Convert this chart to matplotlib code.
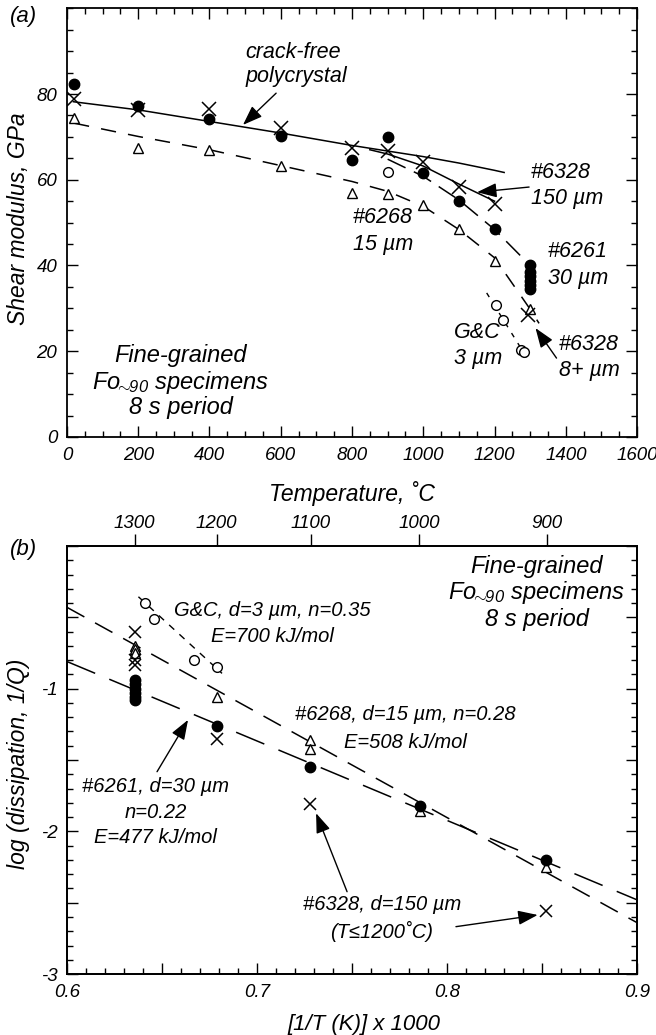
import numpy as np
import matplotlib
matplotlib.use("Agg")
from matplotlib import pyplot as plt
from matplotlib.ticker import MultipleLocator, FixedLocator, FuncFormatter

plt.rcParams['font.family'] = ['Liberation Sans', 'DejaVu Sans']
plt.rcParams['font.style'] = 'italic'
plt.rcParams['mathtext.fontset'] = 'custom'
plt.rcParams['mathtext.rm'] = 'Liberation Sans:italic'
plt.rcParams['mathtext.it'] = 'Liberation Sans:italic'
plt.rcParams['axes.unicode_minus'] = False
plt.rcParams['axes.linewidth'] = 1.3
for a in ('xtick', 'ytick'):
	plt.rcParams[a + '.direction'] = 'in'
	plt.rcParams[a + '.major.width'] = 1.0
	plt.rcParams[a + '.minor.width'] = 1.0
	plt.rcParams[a + '.major.size'] = 8
	plt.rcParams[a + '.minor.size'] = 4
	plt.rcParams[a + '.labelsize'] = 13.5
	plt.rcParams[a + '.major.pad'] = 7

# ---------------- panel (a): shear modulus vs temperature ----------------
T_6261 = [20, 200, 400, 600, 800, 900, 1000, 1100, 1200, 1300, 1300, 1300, 1300, 1300, 1300]
G_6261 = [82.3, 77.1, 74.1, 70.1, 64.7, 69.9, 61.6, 55.0, 48.4, 40.0, 38.5, 37.5, 36.5, 35.5, 34.5]

T_6328 = [20, 200, 400, 600, 800, 900, 1000, 1100, 1200, 1295]
G_6328 = [78.8, 76.3, 76.4, 72.0, 67.4, 66.6, 64.1, 58.4, 54.4, 28.4]

T_6268 = [20, 200, 400, 600, 800, 900, 1000, 1100, 1200, 1300]
G_6268 = [74.3, 67.4, 67.0, 63.3, 56.9, 56.7, 54.2, 48.4, 41.0, 29.8]

T_gc = [900, 1204, 1223, 1275, 1283]
G_gc = [61.9, 30.9, 27.2, 20.2, 19.8]

# fitted curves
T_crackfree = [18, 200, 400, 600, 800, 1000, 1100, 1200, 1227]
G_crackfree = [78.2, 76.3, 73.6, 70.9, 68.0, 65.4, 63.9, 62.2, 61.7]
T_fit6328 = [850, 900, 1000, 1100, 1200]
G_fit6328 = [67.0, 66.0, 63.2, 59.0, 55.0]
T_fit6261 = [900, 1000, 1100, 1200, 1300]
G_fit6261 = [64.8, 60.8, 55.3, 48.4, 40.0]
T_fit6268 = [20, 200, 400, 600, 800, 900, 1000, 1100, 1200, 1300, 1325]
G_fit6268 = [73.2, 70.1, 67.0, 63.3, 59.6, 57.3, 53.8, 48.4, 41.8, 29.8, 26.5]
T_fitgc = [1178, 1298]
G_fitgc = [33.6, 17.5]

# ---------------- panel (b): dissipation vs inverse temperature ----------------
x_6261 = [0.636, 0.636, 0.636, 0.636, 0.636, 0.636, 0.679, 0.728, 0.786, 0.852]
q_6261 = [-0.94, -0.97, -1.00, -1.03, -1.06, -1.08, -1.26, -1.55, -1.82, -2.20]
x_6268 = [0.636, 0.636, 0.636, 0.679, 0.728, 0.728, 0.786, 0.852]
q_6268 = [-0.70, -0.72, -0.75, -1.06, -1.36, -1.42, -1.86, -2.25]
x_6328 = [0.636, 0.636, 0.636, 0.679, 0.728, 0.852]
q_6328 = [-0.60, -0.80, -0.835, -1.355, -1.81, -2.56]
x_gc = [0.641, 0.646, 0.667, 0.679]
q_gc = [-0.40, -0.51, -0.80, -0.85]

x_fit6261 = [0.6, 0.9]
q_fit6261 = [-0.81, -2.48]
x_fit6268 = [0.6, 0.9]
q_fit6268 = [-0.43, -2.64]
x_fitgc = [0.6376, 0.6816]
q_fitgc = [-0.356, -0.893]

top_temps = [1300, 1200, 1100, 1000, 900]

fo90 = r'Fo$_{\!\!\sim\!\!90}$ specimens'

fig = plt.figure(figsize=(6.56, 10.35), dpi=100)
axa = fig.add_axes([0.1021, 0.5778, 0.869, 0.4142])
axb = fig.add_axes([0.1021, 0.0589, 0.869, 0.4136])

arrow = dict(arrowstyle='-|>,head_length=0.6,head_width=0.22', color='k', lw=1.0,
	mutation_scale=20, shrinkA=0, shrinkB=0)
mk = dict(color='k', linestyle='none')

# panel (a)
axa.plot(T_crackfree, G_crackfree, 'k-', lw=1.1)
axa.plot(T_fit6328, G_fit6328, 'k-', lw=1.1)
axa.plot(T_fit6261, G_fit6261, 'k-', lw=1.1, dashes=(13, 6))
axa.plot(T_fit6268, G_fit6268, 'k-', lw=1.1, dashes=(10, 8))
axa.plot(T_fitgc, G_fitgc, 'k-', lw=1.0, dashes=(3.5, 5))
axa.plot(T_6268, G_6268, marker='^', ms=7, mfc='white', mew=1.0, **mk)
axa.plot(T_gc, G_gc, marker='o', ms=7, mfc='white', mew=1.0, **mk)
axa.plot(T_6261, G_6261, marker='o', ms=7.5, mfc='k', **mk)
axa.plot(T_6328, G_6328, marker='x', ms=10, mew=1.1, **mk)

axa.set_xlim(0, 1600)
axa.set_ylim(0, 100)
axa.xaxis.set_major_locator(MultipleLocator(200))
axa.xaxis.set_minor_locator(MultipleLocator(50))
axa.yaxis.set_major_locator(FixedLocator([0, 20, 40, 60, 80]))
axa.yaxis.set_minor_locator(MultipleLocator(5))
axa.tick_params(which='both', top=True, right=True)
axa.set_xlabel('Temperature, ˚C', fontsize=16.5)
axa.xaxis.set_label_coords(0.5, -0.103)
axa.set_ylabel('Shear modulus, GPa', fontsize=16.5)
axa.yaxis.set_label_coords(-0.064, 0.51)

ta = 15.5
axa.text(500, 89.8, 'crack-free', fontsize=ta, va='center')
axa.text(500, 84.0, 'polycrystal', fontsize=ta, va='center')
axa.annotate('', xy=(494, 72.8), xytext=(587, 80.2), arrowprops=arrow)
axa.text(1301, 61.8, '#6328', fontsize=ta, va='center')
axa.text(1301, 55.7, '150 µm', fontsize=ta, va='center')
axa.annotate('', xy=(1151, 57.1), xytext=(1297, 58.3), arrowprops=arrow)
axa.text(803, 51.1, '#6268', fontsize=ta, va='center')
axa.text(803, 44.8, '15 µm', fontsize=ta, va='center')
axa.text(1350, 43.2, '#6261', fontsize=ta, va='center')
axa.text(1350, 36.9, '30 µm', fontsize=ta, va='center')
axa.text(1086, 24.3, 'G&C', fontsize=ta, va='center')
axa.text(1086, 18.2, '3 µm', fontsize=ta, va='center')
axa.text(1380, 21.5, '#6328', fontsize=ta, va='center')
axa.text(1380, 15.6, '8+ µm', fontsize=ta, va='center')
axa.annotate('', xy=(1315, 25.4), xytext=(1374, 18.4), arrowprops=arrow)
tb = 17
axa.text(320, 18.9, 'Fine-grained', fontsize=tb, ha='center', va='center')
axa.text(320, 12.8, fo90, fontsize=tb, ha='center', va='center')
axa.text(320, 6.8, '8 s period', fontsize=tb, ha='center', va='center')

# panel (b)
axb.plot(x_fit6261, q_fit6261, 'k-', lw=1.1, dashes=(20, 10))
axb.plot(x_fit6268, q_fit6268, 'k-', lw=1.1, dashes=(13, 8))
axb.plot(x_fitgc, q_fitgc, 'k-', lw=1.0, dashes=(5, 5))
axb.plot(x_6268, q_6268, marker='^', ms=7, mfc='white', mew=1.0, **mk)
axb.plot(x_gc, q_gc, marker='o', ms=7, mfc='white', mew=1.0, **mk)
axb.plot(x_6261, q_6261, marker='o', ms=7.5, mfc='k', **mk)
axb.plot(x_6328, q_6328, marker='x', ms=9, mew=1.1, **mk)

axb.set_xlim(0.6, 0.9)
axb.set_ylim(-3, 0)
axb.xaxis.set_major_locator(MultipleLocator(0.05))
axb.xaxis.set_minor_locator(MultipleLocator(0.01))
axb.xaxis.set_major_formatter(FuncFormatter(
	lambda v, p: ('%.1f' % v) if abs(v * 10 - round(v * 10)) < 1e-6 else ''))
axb.yaxis.set_major_locator(MultipleLocator(0.5))
axb.yaxis.set_minor_locator(MultipleLocator(0.1))
axb.yaxis.set_major_formatter(FuncFormatter(
	lambda v, p: ('%d' % round(v)) if abs(v - round(v)) < 1e-6 and round(v) != 0 else ''))
axb.tick_params(which='both', top=True, right=True)
axb.set_xlabel('[1/T (K)] x 1000', fontsize=16)
axb.xaxis.set_label_coords(0.521, -0.094)
axb.set_ylabel('log (dissipation, 1/Q)', fontsize=16.5)
axb.yaxis.set_label_coords(-0.064, 0.49)

top = axb.twiny()
top.set_xlim(axb.get_xlim())
top.xaxis.set_major_locator(FixedLocator([1000.0 / (t + 273.15) for t in top_temps]))
top.xaxis.set_minor_locator(FixedLocator([]))
top.set_xticklabels([str(t) for t in top_temps])
top.tick_params(axis='x', which='major', direction='out', length=9, pad=1, labelsize=13.5)

tc = 14.5
axb.text(0.708, -0.449, 'G&C, d=3 µm, n=0.35', fontsize=tc, ha='center', va='center')
axb.text(0.708, -0.638, 'E=700 kJ/mol', fontsize=tc, ha='center', va='center')
axb.text(0.778, -1.184, '#6268, d=15 µm, n=0.28', fontsize=tc, ha='center', va='center')
axb.text(0.778, -1.374, 'E=508 kJ/mol', fontsize=tc, ha='center', va='center')
axb.text(0.6468, -1.689, '#6261, d=30 µm', fontsize=tc, ha='center', va='center')
axb.text(0.6468, -1.871, 'n=0.22', fontsize=tc, ha='center', va='center')
axb.text(0.6468, -2.046, 'E=477 kJ/mol', fontsize=tc, ha='center', va='center')
axb.annotate('', xy=(0.6637, -1.219), xytext=(0.6474, -1.582), arrowprops=arrow)
axb.text(0.7658, -2.516, '#6328, d=150 µm', fontsize=tc, ha='center', va='center')
axb.text(0.7658, -2.705, '(T≤1200˚C)', fontsize=tc, ha='center', va='center')
axb.annotate('', xy=(0.7311, -1.873), xytext=(0.7474, -2.423), arrowprops=arrow)
axb.annotate('', xy=(0.8477, -2.586), xytext=(0.8047, -2.668), arrowprops=arrow)
axb.text(0.8471, -0.147, 'Fine-grained', fontsize=tb, ha='center', va='center')
axb.text(0.8471, -0.329, fo90, fontsize=tb, ha='center', va='center')
axb.text(0.8471, -0.512, '8 s period', fontsize=tb, ha='center', va='center')

fig.text(0.0366, 0.9836, '(a)', fontsize=16, ha='center', va='center')
fig.text(0.0366, 0.4686, '(b)', fontsize=16, ha='center', va='center')

fig.savefig('out.png', dpi=100)
